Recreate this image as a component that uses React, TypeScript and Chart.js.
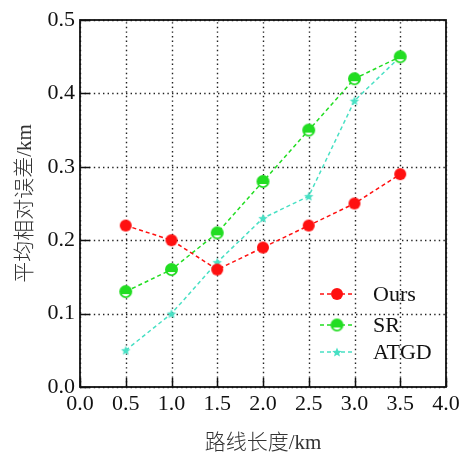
import React, { useEffect, useRef } from "react";
import { Chart, registerables } from "chart.js";

Chart.register(...registerables);

const xValues = [0.5, 1.0, 1.5, 2.0, 2.5, 3.0, 3.5];
const oursValues = [0.22, 0.2, 0.16, 0.19, 0.22, 0.25, 0.29];
const srValues = [0.13, 0.16, 0.21, 0.28, 0.35, 0.42, 0.45];
const atgdValues = [0.05, 0.1, 0.17, 0.23, 0.26, 0.39, 0.45];
const seriesLabels = ["Ours", "SR", "ATGD"];
const xTitle = "路线长度/km";
const yTitle = "平均相对误差/km";

const RED = "#ff1010";
const GREEN = "#22dd22";
const TEAL = "#48e0c4";
const SERIF = '"Liberation Serif", serif';
const CJK = '"Liberation Serif", "Noto Sans CJK SC", serif';

function makeCircle(color: string, r: number) {
  const c = document.createElement("canvas");
  const s = r * 2 + 2;
  c.width = s;
  c.height = s;
  const ctx = c.getContext("2d")!;
  ctx.fillStyle = color;
  ctx.beginPath();
  ctx.arc(s / 2, s / 2, r, 0, Math.PI * 2);
  ctx.fill();
  return c;
}

function makeHalfCircle(color: string, r: number) {
  const c = document.createElement("canvas");
  const s = r * 2 + 2;
  c.width = s;
  c.height = s;
  const ctx = c.getContext("2d")!;
  const cx = s / 2;
  ctx.fillStyle = color;
  ctx.beginPath();
  ctx.arc(cx, cx, r, 0, Math.PI * 2);
  ctx.fill();
  ctx.fillStyle = "#ffffff";
  ctx.beginPath();
  ctx.arc(cx, cx + 0.5, r - 2.2, 0.15 * Math.PI, 0.85 * Math.PI);
  ctx.closePath();
  ctx.fill();
  return c;
}

function makeStar(color: string, r: number) {
  const c = document.createElement("canvas");
  const s = r * 2 + 2;
  c.width = s;
  c.height = s;
  const ctx = c.getContext("2d")!;
  const cx = s / 2;
  ctx.fillStyle = color;
  ctx.beginPath();
  for (let i = 0; i < 10; i++) {
    const rr = i % 2 === 0 ? r : r * 0.45;
    const a = -Math.PI / 2 + (i * Math.PI) / 5;
    const px = cx + rr * Math.cos(a);
    const py = cx + 0.5 + rr * Math.sin(a);
    if (i === 0) ctx.moveTo(px, py);
    else ctx.lineTo(px, py);
  }
  ctx.closePath();
  ctx.fill();
  return c;
}

export default function App() {
  const ref = useRef<HTMLCanvasElement>(null);
  useEffect(() => {
    document.body.style.margin = "0";
    let chart: Chart | null = null;
    let cancelled = false;

    const build = () => {
      if (cancelled || !ref.current) return;
      const redPt = makeCircle(RED, 6);
      const greenPt = makeHalfCircle(GREEN, 6.5);
      const tealPt = makeStar(TEAL, 5);
      const points = [redPt, greenPt, tealPt];
      const colors = [RED, GREEN, TEAL];

      const overlay = {
        id: "overlay",
        beforeDatasetsDraw(chart: any) {
          const ctx = chart.ctx;
          const a = chart.chartArea;
          const xs = chart.scales.x;
          const ys = chart.scales.y;
          ctx.save();
          ctx.strokeStyle = "#222";
          ctx.lineWidth = 1.4;
          ctx.setLineDash([1.4, 3.2]);
          ctx.beginPath();
          xs.ticks.forEach((t: any) => {
            const px = Math.round(xs.getPixelForValue(t.value)) + 0.5;
            ctx.moveTo(px, a.bottom);
            ctx.lineTo(px, a.top);
          });
          ys.ticks.forEach((t: any) => {
            const py = Math.round(ys.getPixelForValue(t.value)) + 0.5;
            ctx.moveTo(a.left, py);
            ctx.lineTo(a.right, py);
          });
          ctx.stroke();
          ctx.restore();
        },
        afterDraw(chart: any) {
          const ctx = chart.ctx;
          const a = chart.chartArea;
          const xs = chart.scales.x;
          const ys = chart.scales.y;
          ctx.save();
          ctx.strokeStyle = "#111";
          ctx.lineWidth = 1.5;
          ctx.beginPath();
          xs.ticks.forEach((t: any) => {
            const px = Math.round(xs.getPixelForValue(t.value)) + 0.5;
            ctx.moveTo(px, a.bottom);
            ctx.lineTo(px, a.bottom - 9);
          });
          ys.ticks.forEach((t: any) => {
            const py = Math.round(ys.getPixelForValue(t.value)) + 0.5;
            ctx.moveTo(a.left, py);
            ctx.lineTo(a.left + 10, py);
          });
          ctx.stroke();
          ctx.lineWidth = 1.8;
          ctx.strokeRect(a.left, a.top, a.right - a.left, a.bottom - a.top);

          const ly = [294, 325, 352];
          ctx.font = `22px ${SERIF}`;
          ctx.textBaseline = "middle";
          ctx.textAlign = "left";
          seriesLabels.forEach((lab, i) => {
            ctx.strokeStyle = colors[i];
            ctx.lineWidth = 1.5;
            ctx.setLineDash([4, 3]);
            ctx.beginPath();
            ctx.moveTo(320, ly[i]);
            ctx.lineTo(354, ly[i]);
            ctx.stroke();
            ctx.setLineDash([]);
            const p = points[i];
            ctx.drawImage(p, 337 - p.width / 2, ly[i] - p.height / 2);
            ctx.fillStyle = "#111";
            ctx.fillText(lab, 373, ly[i] + 1);
          });

          ctx.fillStyle = "#333";
          ctx.font = `300 21px ${CJK}`;
          ctx.textAlign = "center";
          ctx.textBaseline = "middle";
          ctx.fillText(xTitle, (a.left + a.right) / 2, 443);
          ctx.translate(25, (a.top + a.bottom) / 2);
          ctx.rotate(-Math.PI / 2);
          ctx.fillText(yTitle, 0, 0);
          ctx.restore();
        },
      };

      const mk = (data: number[]) => data.map((v, i) => ({ x: xValues[i], y: v }));
      chart = new Chart(ref.current, {
        type: "line",
        data: {
          datasets: [
            { label: seriesLabels[0], data: mk(oursValues), borderColor: RED, pointStyle: redPt as any },
            { label: seriesLabels[1], data: mk(srValues), borderColor: GREEN, pointStyle: greenPt as any },
            { label: seriesLabels[2], data: mk(atgdValues), borderColor: TEAL, pointStyle: tealPt as any },
          ].map((d) => ({
            ...d,
            borderWidth: 1.5,
            borderDash: [4, 3],
            fill: false,
            tension: 0,
            pointRadius: 6,
            clip: false as any,
          })),
        },
        options: {
          responsive: false,
          animation: false,
          layout: { padding: { top: 20, right: 20, left: 0, bottom: 0 } },
          plugins: { legend: { display: false }, tooltip: { enabled: false } },
          scales: {
            x: {
              type: "linear",
              min: 0,
              max: 4,
              afterFit: (s: any) => {
                s.height = 69;
              },
              ticks: {
                stepSize: 0.5,
                padding: 4,
                color: "#111",
                font: { family: SERIF, size: 22 },
                callback: (v: any) => Number(v).toFixed(1),
                maxRotation: 0,
                autoSkip: false,
              },
              grid: { display: false, drawTicks: false },
              border: { display: false },
            },
            y: {
              min: 0,
              max: 0.5,
              afterFit: (s: any) => {
                s.width = 80;
              },
              ticks: {
                stepSize: 0.1,
                padding: 5,
                color: "#111",
                font: { family: SERIF, size: 22 },
                callback: (v: any) => Number(v).toFixed(1),
              },
              grid: { display: false, drawTicks: false },
              border: { display: false },
            },
          },
        },
        plugins: [overlay],
      });
    };

    const fonts: any = (document as any).fonts;
    if (fonts && fonts.load) {
      Promise.all([
        fonts.load('22px "Liberation Serif"'),
        fonts.load('300 21px "Noto Sans CJK SC"', "路线长度平均相对误差"),
      ])
        .catch(() => {})
        .then(build);
    } else {
      build();
    }
    return () => {
      cancelled = true;
      if (chart) chart.destroy();
    };
  }, []);
  return <canvas ref={ref} width={466} height={456} style={{ display: "block" }} />;
}
